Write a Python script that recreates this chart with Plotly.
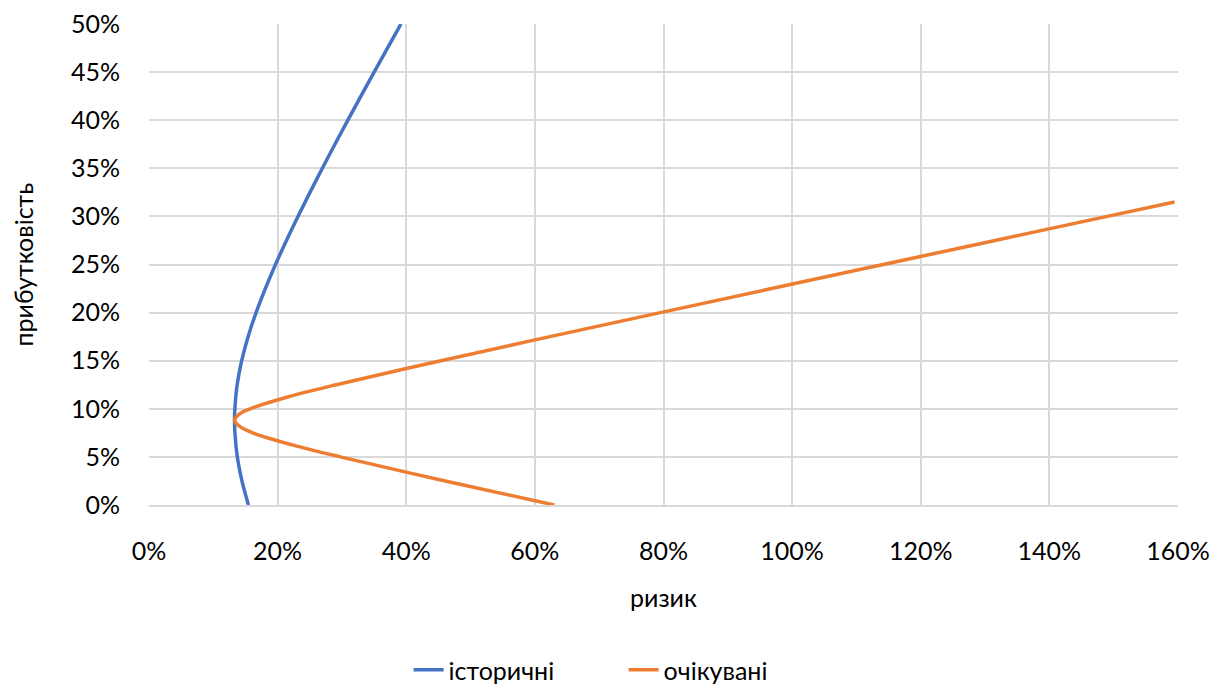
import plotly.graph_objects as go

# Efficient frontier points: risk (std. dev., %) vs return (%)
hist_return = [0, 2.5, 5, 7.5, 8.8, 10, 12.5, 15, 17.5, 20, 22.5, 25, 27.5, 30,
               32.5, 35, 37.5, 40, 42.5, 45, 47.5, 50]
hist_risk = [15.46, 14.45, 13.73, 13.36, 13.30, 13.35, 13.71, 14.41, 15.41, 16.65,
             18.09, 19.67, 21.37, 23.16, 25.03, 26.95, 28.91, 30.92, 32.95, 35.01,
             37.08, 39.18]

exp_return = [0, 2.5, 5, 6.25, 7.5, 8.2, 8.8, 9.4, 10, 11.25, 12.5, 15, 17.5, 20,
              22.5, 25, 27.5, 30, 31.5]
exp_risk = [63.02, 46.06, 29.74, 22.26, 16.12, 14.05, 13.30, 13.95, 15.73, 21.70,
            29.12, 45.39, 62.34, 79.52, 96.82, 114.18, 131.57, 149.0, 159.46]

x_ticks = [0, 20, 40, 60, 80, 100, 120, 140, 160]
y_ticks = [0, 5, 10, 15, 20, 25, 30, 35, 40, 45, 50]

FONT = "Lato, Carlito, Calibri, sans-serif"
FS = 25
GRID = "#d9d9d9"

fig = go.Figure()
fig.add_trace(go.Scatter(
    x=hist_risk, y=hist_return, mode="lines", name="історичні",
    line=dict(color="#4472c4", width=3.5, shape="spline", smoothing=1.0),
))
fig.add_trace(go.Scatter(
    x=exp_risk, y=exp_return, mode="lines", name="очікувані",
    line=dict(color="#ed7d31", width=3.5, shape="spline", smoothing=1.0),
))

fig.update_layout(
    template="none",
    width=1230, height=685,
    margin=dict(l=149, r=52, t=24, b=180, autoexpand=False),
    paper_bgcolor="white", plot_bgcolor="white",
    font=dict(family=FONT, size=FS, color="#000000"),
    showlegend=True,
    legend=dict(orientation="h", x=0.507, xanchor="center", xref="container",
                y=15 / 685, yanchor="middle", yref="container",
                font=dict(size=FS), itemwidth=30, entrywidth=170,
                tracegroupgap=0, bgcolor="rgba(0,0,0,0)"),
    xaxis=dict(
        range=[0, 160], tickvals=x_ticks, ticktext=[f"{v}%" for v in x_ticks],
        showgrid=True, gridcolor=GRID, gridwidth=2, zeroline=False,
        showline=True, linecolor=GRID, linewidth=2,
        ticks="", ticklabelstandoff=23, automargin=False,
    ),
    yaxis=dict(
        range=[0, 50], tickvals=y_ticks, ticktext=[f"{v}%" for v in y_ticks],
        showgrid=True, gridcolor=GRID, gridwidth=2, zeroline=False,
        showline=False, ticks="", ticklabelstandoff=28, automargin=False,
    ),
    annotations=[
        dict(text="ризик", xref="paper", yref="paper", x=0.5, y=-92 / 481,
             xanchor="center", yanchor="middle", showarrow=False,
             font=dict(size=FS)),
        dict(text="прибутковість", xref="paper", yref="paper",
             x=-127 / 1029, y=0.5, xanchor="center", yanchor="middle",
             textangle=-90, showarrow=False, font=dict(size=FS)),
    ],
)

fig.write_html("out.html")
